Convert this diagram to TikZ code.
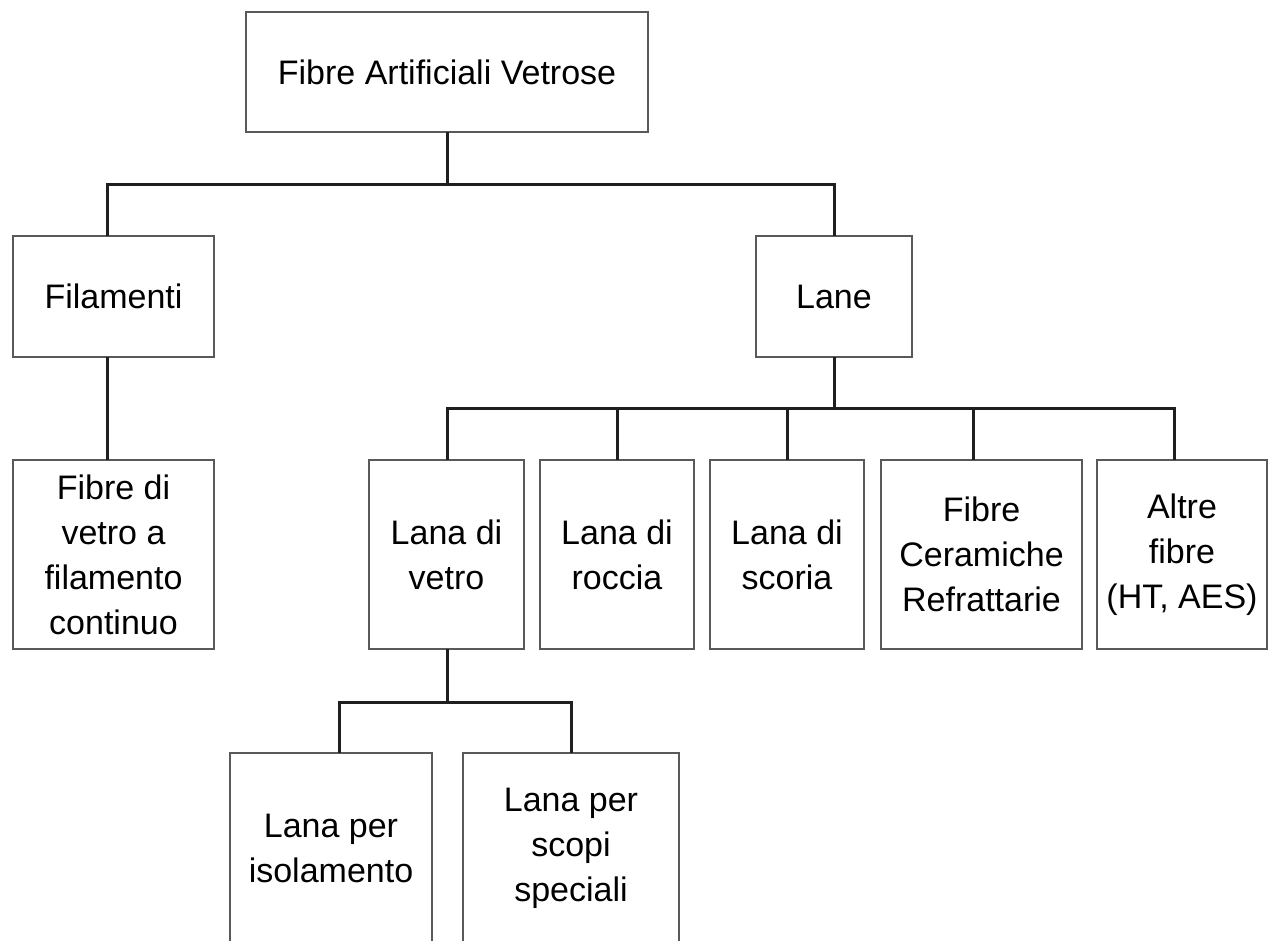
\documentclass[tikz,border=0pt]{standalone}
\usepackage{fontspec}
\setmainfont{Liberation Sans}
\begin{document}
\begin{tikzpicture}[x=1pt,y=-1pt,
  box/.style={draw=black!65,line width=1.8pt,fill=white,inner sep=0pt,outer sep=0pt,
    align=center,font=\fontsize{34}{45}\selectfont},
  conn/.style={draw=black!88,line width=3pt}]
\useasboundingbox[fill=white] (0,0) rectangle (1272,940);
% nodes
\node[box,minimum width=402pt,minimum height=120pt] (root) at (447,72) {Fibre Artificiali Vetrose};
\node[box,minimum width=201pt,minimum height=121pt] (fil) at (113.5,296.5) {Filamenti};
\node[box,minimum width=156pt,minimum height=121pt] (lane) at (834,296.5) {Lane};
\node[box,minimum width=201pt,minimum height=189pt] (fvc) at (113.5,554.5) {Fibre di\\vetro a\\filamento\\continuo};
\node[box,minimum width=155pt,minimum height=189pt] (lv) at (446.5,554.5) {Lana di\\vetro};
\node[box,minimum width=154pt,minimum height=189pt] (lr) at (617,554.5) {Lana di\\roccia};
\node[box,minimum width=154pt,minimum height=189pt] (ls) at (787,554.5) {Lana di\\scoria};
\node[box,minimum width=201pt,minimum height=189pt] (fcr) at (981.5,554.5) {Fibre\\Ceramiche\\Refrattarie};
\node[box,minimum width=170pt,minimum height=189pt] (af) at (1182,554.5) {Altre\\fibre\\(HT, AES)};
\node[box,minimum width=202pt,minimum height=190pt] (lpi) at (331,848) {Lana per\\isolamento};
\node[box,minimum width=216pt,minimum height=190pt] (lps) at (571,848) {Lana per\\scopi\\speciali};
% bus coordinates
\coordinate (b1) at (447,184);
\coordinate (b2) at (834,408);
\coordinate (b3) at (447,702);
% connectors
\draw[conn] (root.south) -- (b1);
\draw[conn] ([xshift=-6.5pt]fil.north) |- (b1) -| (lane.north);
\draw[conn] ([xshift=-6.5pt]fil.south) -- ([xshift=-6.5pt]fvc.north);
\draw[conn] (lane.south) -- (b2);
\draw[conn] ([xshift=0.5pt]lv.north) |- (b2) -| ([xshift=-8pt]af.north);
\draw[conn] (lr.north) -- (lr.north |- b2);
\draw[conn] (ls.north) -- (ls.north |- b2);
\draw[conn] ([xshift=-8.5pt]fcr.north) -- ([xshift=-8.5pt]fcr.north |- b2);
\draw[conn] ([xshift=0.5pt]lv.south) -- (b3);
\draw[conn] ([xshift=8pt]lpi.north) |- (b3) -| (lps.north);
\end{tikzpicture}
\end{document}
